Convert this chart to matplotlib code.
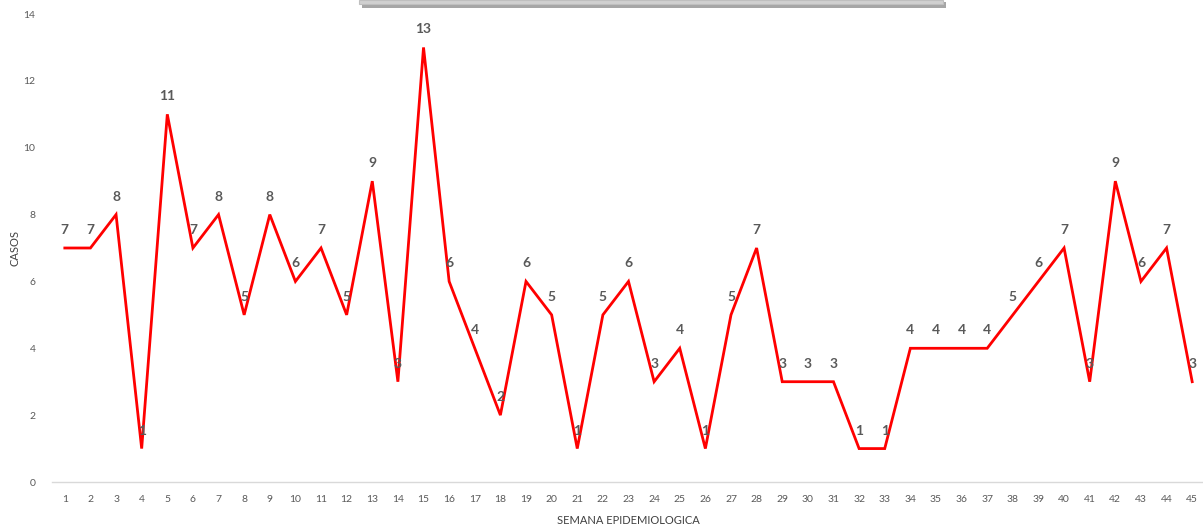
import matplotlib
matplotlib.use('Agg')
import matplotlib.pyplot as plt
from matplotlib.patches import Rectangle

plt.rcParams['font.family'] = ['Lato', 'DejaVu Sans']

# semanas epidemiologicas y casos
semanas = list(range(1, 46))
casos = [7, 7, 8, 1, 11, 7, 8, 5, 8, 6,
         7, 5, 9, 3, 13, 6, 4, 2, 6, 5,
         1, 5, 6, 3, 4, 1, 5, 7, 3, 3,
         3, 1, 1, 4, 4, 4, 4, 5, 6, 7,
         3, 9, 6, 7, 3]
y_ticks = [0, 2, 4, 6, 8, 10, 12, 14]

gris = '#595959'

fig = plt.figure(figsize=(12.03, 5.28), dpi=100)
ax = fig.add_axes([52/1203, 1 - 482/528, 1 - 50/1203, (482 - 14)/528])

ax.plot(semanas, casos, color='#ff0000', linewidth=2.0, solid_joinstyle='miter')

for s, c in zip(semanas, casos):
    ax.annotate(str(c), (s, c), xytext=(0, 13), textcoords='offset points',
                ha='center', va='center', fontsize=10, fontweight='bold', color=gris)

ax.set_xlim(0.5, 45.5)
ax.set_ylim(0, 14)
ax.set_xticks(semanas)
ax.set_xticklabels([str(s) for s in semanas])
ax.set_yticks(y_ticks)
ax.tick_params(axis='both', length=0, labelsize=7.5, labelcolor=gris)
ax.tick_params(axis='x', pad=9)
ax.tick_params(axis='y', pad=12)

for side in ['top', 'right', 'left']:
    ax.spines[side].set_visible(False)
ax.spines['bottom'].set_color('#d9d9d9')
ax.spines['bottom'].set_linewidth(1.0)

ax.set_ylabel('CASOS', fontsize=8, color='#404040')
ax.yaxis.set_label_coords(-31/1150, 0.5)
fig.text(628/1203, 1 - 521/528, 'SEMANA EPIDEMIOLOGICA', ha='center', va='center',
         fontsize=8, color='#404040')

# caja de titulo recortada arriba
fig.patches.append(Rectangle((362/1203, 1 - 8/528), (946 - 362)/1203, 6/528,
                             transform=fig.transFigure, facecolor='#a6a6a6',
                             edgecolor='none'))
fig.patches.append(Rectangle((359/1203, 1 - 4/528), (943 - 359)/1203, 4/528,
                             transform=fig.transFigure, facecolor='#d0d0d0',
                             edgecolor='#bfbfbf', linewidth=0.8))

fig.savefig('out.png', dpi=100)
